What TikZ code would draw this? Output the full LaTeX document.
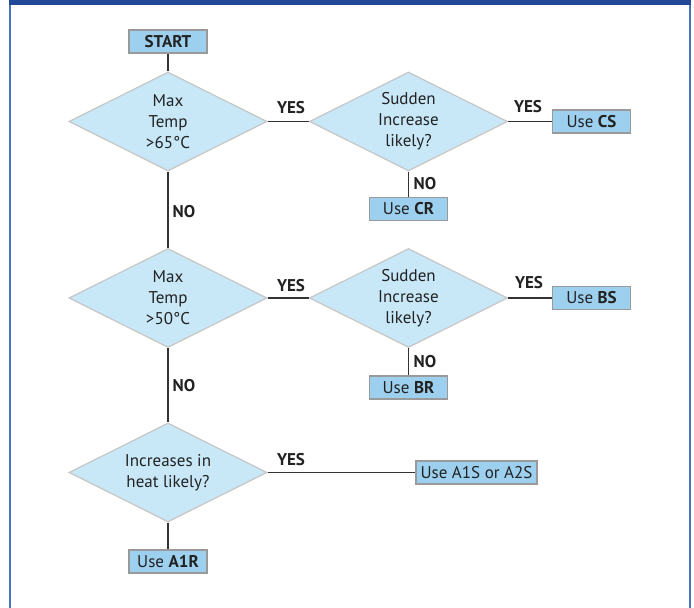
\documentclass[tikz,border=0pt]{standalone}
\usepackage{fontspec}
\setmainfont{PT Sans}
\usetikzlibrary{shapes.geometric}
\definecolor{frameblue}{HTML}{23489A}
\definecolor{sideblue}{HTML}{4A73C4}
\definecolor{dfill}{HTML}{C8E8F8}
\definecolor{dline}{HTML}{C6C6C6}
\definecolor{bfill}{HTML}{9DD0EF}
\definecolor{bline}{HTML}{9A9A9A}
\definecolor{cline}{HTML}{333333}
\definecolor{txt}{HTML}{222222}
\begin{document}
\begin{tikzpicture}[x=1pt,y=-1pt,
  every node/.style={font=\fontsize{17}{21}\selectfont, text=txt},
  decision/.style={diamond, aspect=2, draw=dline, fill=dfill, line width=1.2pt,
    minimum width=198pt, minimum height=99pt, inner sep=0pt, align=center},
  result/.style={rectangle, draw=bline, fill=bfill, line width=1.2pt,
    minimum width=78pt, minimum height=23pt, inner sep=1pt},
  conn/.style={draw=cline, line width=1.4pt},
  lab/.style={font=\fontsize{17}{18}\selectfont\bfseries, inner sep=0pt}]
\useasboundingbox (0,0) rectangle (694,608);
\fill[white] (0,0) rectangle (694,608);
\fill[frameblue] (9,0) rectangle (691,5);
\fill[sideblue] (9,5) rectangle (11,608);
\fill[sideblue] (689,5) rectangle (691,608);

% nodes
\node[result] (start) at (168,41.5) {\textbf{START}};
\node[decision] (d1) at (168,121.5) {Max\\Temp\\>65°C};
\node[decision] (d2) at (408.5,121.5) {Sudden\\Increase\\likely?};
\node[result] (cs) at (591.5,121.5) {Use \textbf{CS}};
\node[result] (cr) at (408.5,209) {Use \textbf{CR}};
\node[decision] (d3) at (168,298) {Max\\Temp\\>50°C};
\node[decision] (d4) at (408.5,298) {Sudden\\Increase\\likely?};
\node[result] (bs) at (591.5,298) {Use \textbf{BS}};
\node[result] (br) at (408.5,387.5) {Use \textbf{BR}};
\node[decision] (d5) at (168,472.5) {Increases in\\heat likely?};
\node[result, minimum width=121pt] (a1s) at (476.5,472.5) {Use A1S or A2S};
\node[result] (a1r) at (168,561.5) {Use \textbf{A1R}};

% connectors
\draw[conn] (start.south) -- (d1.north);
\draw[conn] (d1.east) -- (d2.west);
\draw[conn] (d2.east) -- (cs.west);
\draw[conn] (d2.south) -- (cr.north);
\draw[conn] (d1.south) -- (d3.north);
\draw[conn] (d3.east) -- (d4.west);
\draw[conn] (d4.east) -- (bs.west);
\draw[conn] (d4.south) -- (br.north);
\draw[conn] (d3.south) -- (d5.north);
\draw[conn] (d5.east) -- (a1s.west);
\draw[conn] (d5.south) -- (a1r.north);

% labels
\node[lab] (y1) at (291,108) {YES};
\node[lab] (y2) at (528,107) {YES};
\node[lab] (n1) at (425,184) {NO};
\node[lab] (n2) at (184,212) {NO};
\node[lab] (y3) at (291,286) {YES};
\node[lab] (y4) at (529,283) {YES};
\node[lab] (n3) at (425,362) {NO};
\node[lab] (n4) at (184,386) {NO};
\node[lab] (y5) at (291,460) {YES};
\end{tikzpicture}
\end{document}
